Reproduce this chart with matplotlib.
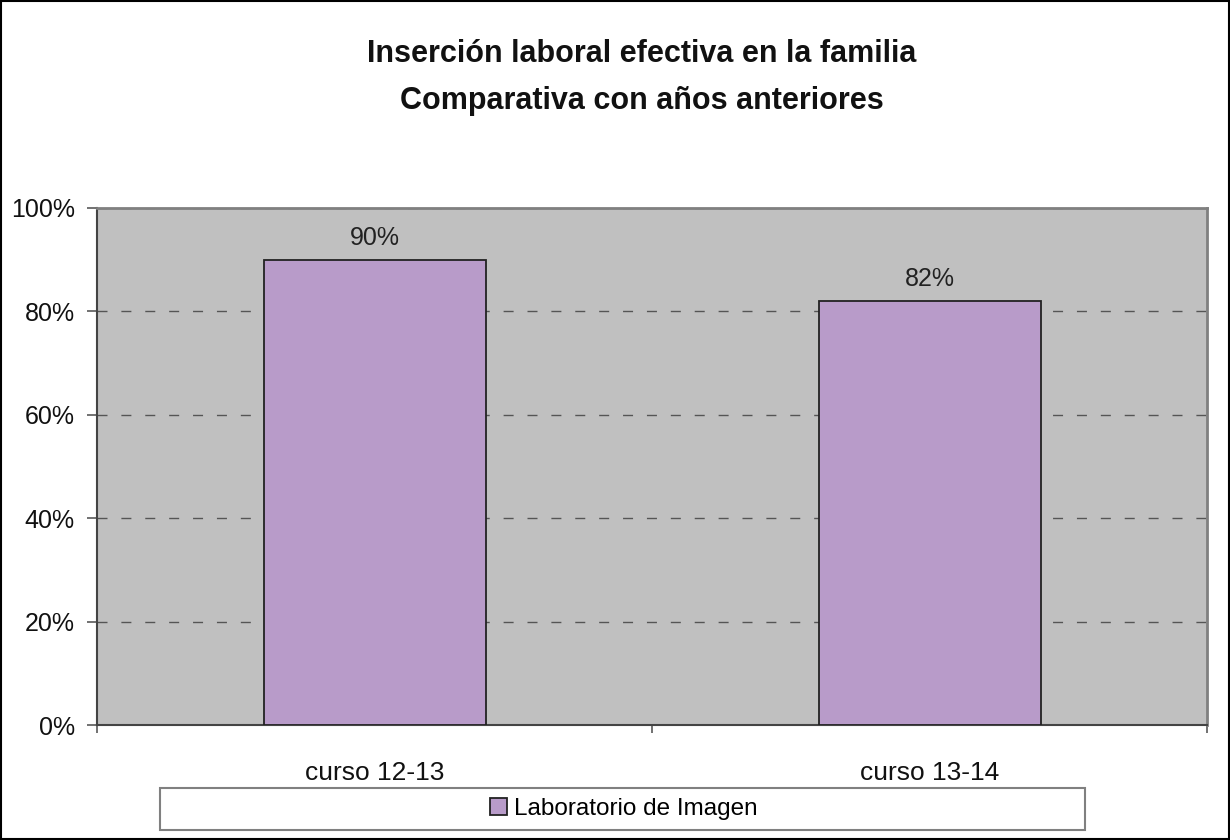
import matplotlib.pyplot as plt
from matplotlib.patches import Rectangle
from matplotlib.ticker import PercentFormatter

plt.rcParams["font.family"] = ["Liberation Sans", "DejaVu Sans"]

# Datos
categorias = ["curso 12-13", "curso 13-14"]
insercion = [90, 82]
serie = "Laboratorio de Imagen"

fig = plt.figure(figsize=(12.3, 8.4), dpi=100)
ax = fig.add_axes([0.0789, 0.1369, 0.9024, 0.6155])
ax.set_facecolor("#C0C0C0")

x = range(len(categorias))
bars = ax.bar(x, insercion, width=0.4, color="#B89BC9", edgecolor="#222222",
              linewidth=1.3, label=serie, zorder=3)
for b, v in zip(bars, insercion):
    ax.annotate(f"{v}%", (b.get_x() + b.get_width() / 2, v), xytext=(0, 7),
                textcoords="offset points", ha="center", va="bottom",
                fontsize=18, color="#222222")

ax.set_xlim(-0.5, 1.5)
ax.set_ylim(0, 100)
ax.set_yticks(range(0, 101, 20))
ax.yaxis.set_major_formatter(PercentFormatter(decimals=0))
ax.set_xticks([-0.5, 0.5, 1.5], minor=False)
ax.set_xticklabels([])
ax.set_xticks(list(x), minor=True)
ax.set_xticklabels(categorias, minor=True)
ax.tick_params(axis="x", which="major", length=6, width=1.3, direction="out", color="#666666")
ax.tick_params(axis="x", which="minor", length=0, pad=26, labelsize=19, labelcolor="#111111")
ax.tick_params(axis="y", length=7, width=1.3, direction="out", color="#666666",
               labelsize=18, pad=9, labelcolor="#111111")

ax.yaxis.grid(True, linestyle=(0, (7.2, 10)), color="#555555", linewidth=1.0, zorder=0)
ax.set_axisbelow(True)
for s in ["top", "right"]:
    ax.spines[s].set_color("#808080")
    ax.spines[s].set_linewidth(2)
for s in ["left", "bottom"]:
    ax.spines[s].set_color("#444444")
    ax.spines[s].set_linewidth(1.5)

fig.suptitle("Inserción laboral efectiva en la familia\nComparativa con años anteriores",
             x=0.5215, y=0.953, fontsize=22, fontweight="bold", linespacing=1.7,
             color="#111111")

# Caja de la leyenda
fig.patches.append(Rectangle((0.130, 0.012), 0.752, 0.05, transform=fig.transFigure,
                             facecolor="white", edgecolor="#808080", linewidth=1.5))
leg = fig.legend(loc="center", bbox_to_anchor=(0.507, 0.037), fontsize=17.5,
                 frameon=False, handlelength=0.7, handleheight=0.7, handletextpad=0.3,
                 borderpad=0, borderaxespad=0)

fig.patches.append(Rectangle((0.001, 0.001), 0.998, 0.998, transform=fig.transFigure,
                             fill=False, edgecolor="black", linewidth=1.5))

plt.savefig("out.png", dpi=100)
